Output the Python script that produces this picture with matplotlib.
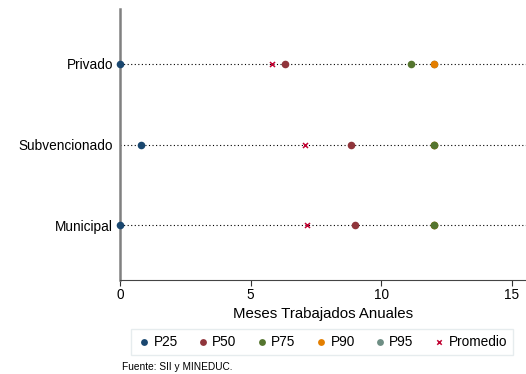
import matplotlib
matplotlib.use("Agg")
import matplotlib.pyplot as plt

plt.rcParams['font.family'] = ['Liberation Sans', 'DejaVu Sans']

categories = ["Municipal", "Subvencionado", "Privado"]
p25 = [0.0, 0.8, 0.0]
p50 = [9.0, 8.85, 6.3]
p75 = [12.0, 12.0, 11.15]
p90 = [12.0, 12.0, 12.0]
p95 = [12.0, 12.0, 12.0]
promedio = [7.15, 7.1, 5.8]

series = [
    ("P25", p25, "#1a476f"),
    ("P50", p50, "#90353b"),
    ("P75", p75, "#55752f"),
    ("P90", p90, "#e37e00"),
    ("P95", p95, "#6e8e84"),
]

fig = plt.figure(figsize=(5.26, 3.74), dpi=100)
ax = fig.add_axes([120/526, 1 - 280/374, 1 - 120/526, (280 - 9)/374])

ypos = list(range(1, len(categories) + 1))
for y in ypos:
    ax.axhline(y, color="black", linestyle=(0, (1, 2.2)), linewidth=0.8, zorder=1)

handles = {}
# draw higher percentiles first so lower ones lie on top
for z, (name, vals, col) in enumerate(reversed(series)):
    h = ax.scatter(vals, ypos, s=30, color=col, zorder=3 + z, linewidths=0, clip_on=False)
    handles[name] = h
hp = ax.scatter(promedio, ypos, marker="x", s=13, color="#c10534", linewidths=1.1,
                zorder=10, clip_on=False)

ax.set_xlim(0, 15.54)
ax.set_ylim(0.32, 3.68)
ax.set_yticks(ypos)
ax.set_yticklabels(categories, fontsize=9.8)
ax.tick_params(axis="y", length=0, pad=5)
ax.set_xticks([0, 5, 10, 15])
ax.tick_params(axis="x", length=4, width=0.8, labelsize=9.8, pad=1.5, color="#333333")
ax.set_xlabel("Meses Trabajados Anuales", fontsize=10.8, labelpad=4)

for s in ["top", "right"]:
    ax.spines[s].set_visible(False)
ax.spines["left"].set_color("#808080")
ax.spines["left"].set_linewidth(1.8)
ax.spines["left"].set_zorder(2)
ax.spines["bottom"].set_color("#444444")
ax.spines["bottom"].set_linewidth(0.8)

leg_h = [handles[n] for n, _, _ in series] + [hp]
leg_l = [n for n, _, _ in series] + ["Promedio"]
leg = fig.legend(leg_h, leg_l, loc="center", bbox_to_anchor=(322/526, 1 - 342/374),
                 ncol=6, fontsize=9.8, frameon=True, fancybox=False,
                 handletextpad=0.2, columnspacing=1.35, borderpad=0.45,
                 handlelength=1.0, markerscale=0.9)
leg.get_frame().set_edgecolor("#e0e8ea")
leg.get_frame().set_linewidth(1.0)

fig.text(122/526, 1 - 367/374, "Fuente: SII y MINEDUC.", fontsize=7.3, va="center", ha="left")

fig.savefig("out.png", dpi=100)
